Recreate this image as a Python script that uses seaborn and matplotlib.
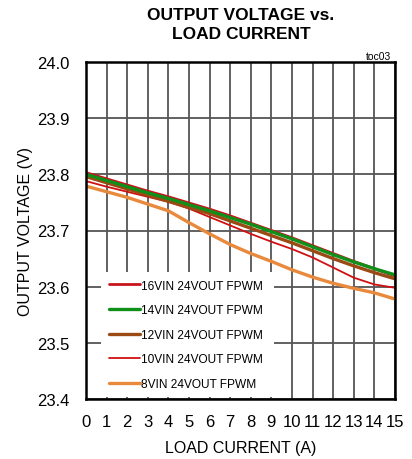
import pandas as pd
import matplotlib
matplotlib.use('Agg')
import matplotlib.pyplot as plt
import seaborn as sns

# Load current (A)
load_current = list(range(16))

# Output voltage (V) per input voltage
v_16vin = [23.803, 23.792, 23.781, 23.770, 23.760, 23.749, 23.738, 23.726,
           23.713, 23.700, 23.687, 23.673, 23.659, 23.645, 23.632, 23.619]
v_14vin = [23.800, 23.789, 23.778, 23.767, 23.757, 23.746, 23.735, 23.723,
           23.711, 23.698, 23.685, 23.671, 23.657, 23.644, 23.632, 23.621]
v_12vin = [23.796, 23.785, 23.774, 23.763, 23.752, 23.741, 23.730, 23.717,
           23.704, 23.691, 23.678, 23.664, 23.650, 23.637, 23.625, 23.614]
v_10vin = [23.788, 23.778, 23.769, 23.760, 23.751, 23.739, 23.724, 23.709,
           23.694, 23.680, 23.667, 23.652, 23.634, 23.616, 23.604, 23.598]
v_8vin = [23.779, 23.769, 23.759, 23.747, 23.735, 23.714, 23.694, 23.675,
          23.659, 23.645, 23.630, 23.617, 23.606, 23.597, 23.589, 23.578]

series_labels = ['16VIN 24VOUT FPWM', '14VIN 24VOUT FPWM', '12VIN 24VOUT FPWM',
                 '10VIN 24VOUT FPWM', '8VIN 24VOUT FPWM']
series_values = [v_16vin, v_14vin, v_12vin, v_10vin, v_8vin]
series_colors = ['#c8141c', '#10901a', '#9a4a12', '#d01010', '#e8893c']
series_widths = [2.0, 2.4, 2.4, 1.3, 2.4]
series_zorder = [3.2, 3.5, 3.4, 3.1, 3.0]

x_ticks = list(range(16))
y_ticks = [23.4, 23.5, 23.6, 23.7, 23.8, 23.9, 24.0]

sns.set_style('white')
narrow = ['Liberation Sans Narrow', 'Liberation Sans', 'DejaVu Sans']
plt.rcParams['font.family'] = ['Liberation Sans', 'DejaVu Sans']
plt.rcParams['text.color'] = 'black'
plt.rcParams['axes.labelcolor'] = 'black'
plt.rcParams['xtick.color'] = 'black'
plt.rcParams['ytick.color'] = 'black'

fig = plt.figure(figsize=(4.12, 4.60), dpi=100)
ax = fig.add_axes([86 / 412, 60 / 460, 309 / 412, 337 / 460])

# grid drawn under the legend
for xv in x_ticks:
    ax.axvline(xv, color='#555555', lw=1.3, zorder=1)
for yv in y_ticks:
    ax.axhline(yv, color='#555555', lw=1.3, zorder=1)

for label, values, color, lw, z in zip(series_labels, series_values, series_colors,
                                       series_widths, series_zorder):
    df = pd.DataFrame({'Load Current': load_current, 'Vout': values})
    sns.lineplot(data=df, x='Load Current', y='Vout', color=color, lw=lw,
                 label=label, ax=ax, zorder=z)

ax.set_xlim(0, 15)
ax.set_ylim(23.4, 24.0)
ax.set_xticks(x_ticks)
ax.set_yticks(y_ticks)
ax.set_yticklabels([f'{v:.1f}' for v in y_ticks])
ax.tick_params(axis='both', direction='in', length=6, width=1.2, color='#444444',
               labelsize=12)
ax.tick_params(axis='y', pad=12)
ax.tick_params(axis='x', pad=11)
ax.set_axisbelow(False)
for spine in ax.spines.values():
    spine.set_linewidth(1.8)
    spine.set_color('black')
    spine.set_zorder(6)

ax.set_xlabel('LOAD CURRENT (A)', fontsize=11.5, labelpad=8)
ax.set_ylabel('OUTPUT VOLTAGE (V)', fontsize=11.5, labelpad=3)

leg = ax.legend(loc='lower left', bbox_to_anchor=(0.05, 0.006, 0.56, 0.395),
                mode='expand', frameon=True, fancybox=False, framealpha=1,
                edgecolor='none', facecolor='white', borderaxespad=0,
                handlelength=2.6, handletextpad=0.1, labelspacing=1.05,
                borderpad=0.6, prop={'family': narrow, 'size': 8.6})
leg.set_zorder(2)

fig.text(0.585, 1 - 8 / 460, 'OUTPUT VOLTAGE vs.\nLOAD CURRENT', ha='center', va='top',
         fontsize=12.5, fontweight='bold', family=narrow, linespacing=1.35)
fig.text(391 / 412, 1 - 57 / 460, 'toc03', ha='right', va='center', fontsize=7.5)

fig.savefig('out.png', dpi=100)
